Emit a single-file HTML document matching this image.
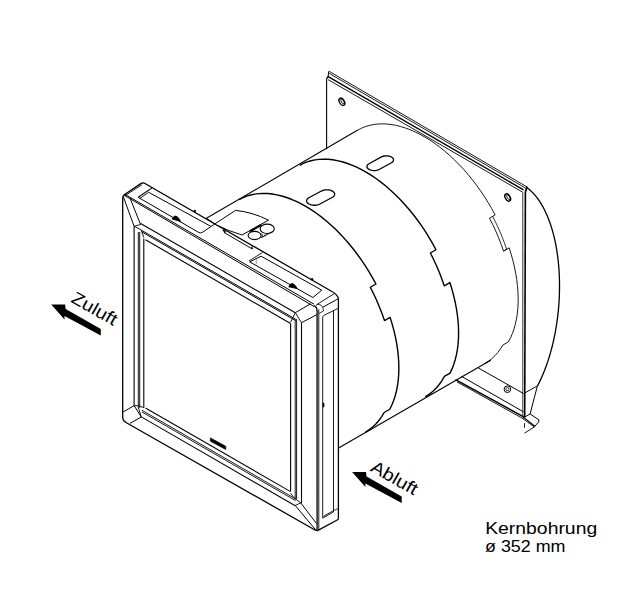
<!DOCTYPE html>
<html><head><meta charset="utf-8"><style>
html,body{margin:0;padding:0;background:#fff;}
svg{display:block;}
text{font-family:"Liberation Sans",sans-serif;fill:#000;}
</style></head><body>
<svg width="617" height="590" viewBox="0 0 617 590">
<rect width="617" height="590" fill="#fff"/>
<polyline points="239.29,199.59 242.88,197.73 246.65,196.2 250.57,195 254.66,194.13 258.88,193.6 263.23,193.4 267.71,193.54 272.28,194.02 276.96,194.84 281.71,195.99 286.52,197.47 291.39,199.27 296.3,201.4 301.23,203.85 306.18,206.6 311.12,209.65 316.05,213 320.95,216.63 325.8,220.53 330.6,224.69 335.32,229.11 339.97,233.76 344.51,238.64 348.95,243.73 353.26,249.01 357.44,254.48 361.48,260.11 365.35,265.9 369.06,271.82 372.59,277.86 375.94,284 370.31,287.25 373.62,293.82 376.7,300.46 379.55,307.16 382.14,313.89 384.48,320.63 390.11,317.38 392.15,324.01 393.94,330.62 395.45,337.18 396.69,343.66 397.66,350.06 398.34,356.35 398.75,362.51 398.87,368.52 398.7,374.37 398.25,380.03 397.52,385.5 396.52,390.74 395.23,395.76 393.67,400.53 391.85,405.03 389.76,409.26 384.13,412.51 381.71,416.56 379.03,420.3 376.1,423.7 372.92,426.76 369.5,429.47 365.86,431.82 371.49,428.57 371.49,428.57 371.49,428.57 371.49,428.57 371.49,428.57" fill="none" stroke="#000" stroke-width="1.4" stroke-linejoin="round"/>
<polyline points="299.77,165.32 303.35,163.47 307.11,161.94 311.03,160.74 315.1,159.88 319.32,159.35 323.66,159.16 328.12,159.31 332.69,159.79 337.35,160.61 342.09,161.76 346.89,163.25 351.75,165.06 356.65,167.19 361.57,169.64 366.5,172.39 371.43,175.45 376.35,178.79 381.23,182.42 386.07,186.32 390.85,190.49 395.56,194.9 400.19,199.55 404.72,204.43 409.14,209.51 413.43,214.79 417.59,220.26 421.61,225.88 425.47,231.66 429.15,237.58 432.66,243.6 435.99,249.74 430.36,252.99 433.6,259.45 436.62,265.98 439.41,272.56 441.95,279.18 444.25,285.8 449.88,282.55 451.89,289.06 453.64,295.55 455.14,301.99 456.37,308.36 457.34,314.64 458.03,320.82 458.45,326.88 458.59,332.8 458.47,338.56 458.06,344.14 457.39,349.53 456.44,354.72 455.23,359.68 453.75,364.41 452.01,368.88 450.01,373.09 444.39,376.34 441.95,380.59 439.23,384.49 436.23,388.04 432.98,391.23 429.47,394.04 425.72,396.47 431.35,393.22 431.35,393.22 431.35,393.22 431.35,393.22 431.35,393.22" fill="none" stroke="#000" stroke-width="1.4" stroke-linejoin="round"/>
<polyline points="357.8,130.09 361.41,128.22 365.19,126.68 369.14,125.47 373.24,124.6 377.49,124.06 381.86,123.87 386.36,124.01 390.96,124.49 395.65,125.31 400.43,126.47 405.27,127.95 410.16,129.77 415.09,131.91 420.05,134.37 425.02,137.13 429.99,140.2 434.94,143.56 439.87,147.21 444.74,151.13 449.56,155.32 454.31,159.75 458.98,164.43 463.55,169.33 468.01,174.44 472.34,179.75 476.54,185.25 480.6,190.91 484.49,196.73 488.22,202.68 491.77,208.75 495.13,214.92 489.5,218.17 492.77,224.65 495.82,231.2 498.63,237.8 501.21,244.43 503.53,251.08 509.16,247.83 511.17,254.24 512.93,260.64 514.45,266.98 515.71,273.27 516.71,279.48 517.46,285.59 517.94,291.59 518.16,297.45 518.12,303.18 517.81,308.73 517.24,314.11 516.41,319.3 515.32,324.28 513.98,329.03 512.38,333.55 510.54,337.83 508.45,341.84 502.82,345.09 500.43,348.93 497.8,352.47 494.94,355.7 491.85,358.62 488.54,361.2 485.03,363.46 490.66,360.21 490.66,360.21 490.66,360.21 490.66,360.21 490.66,360.21" fill="none" stroke="#000" stroke-width="0.9" stroke-linejoin="round"/>
<polyline points="492.62,216.37 495.89,222.85 498.94,229.4 501.75,236 504.32,242.63 506.65,249.28" fill="none" stroke="#000" stroke-width="0.8" stroke-linejoin="round"/>
<line x1="506.65" y1="249.28" x2="503.53" y2="251.08" stroke="#000" stroke-width="0.9"/>
<line x1="206" y1="218.59" x2="357.8" y2="130.09" stroke="#000" stroke-width="1.1"/>
<line x1="338.2" y1="448.15" x2="490.66" y2="360.21" stroke="#000" stroke-width="1.1"/>
<polygon points="321.4,191.05 322.42,190.56 323.57,190.18 324.83,189.92 326.15,189.78 327.5,189.78 328.82,189.92 330.1,190.18 331.27,190.56 332.32,191.05 333.2,191.64 333.89,192.3 334.37,193.02 334.63,193.77 334.65,194.53 334.44,195.28 334,196 333.35,196.66 332.5,197.25 319.9,204 318.88,204.49 317.73,204.87 316.47,205.13 315.15,205.27 313.8,205.27 312.48,205.13 311.2,204.87 310.03,204.49 308.98,204 308.1,203.41 307.41,202.75 306.93,202.03 306.67,201.28 306.65,200.52 306.86,199.77 307.3,199.05 307.95,198.39 308.8,197.8" fill="none" stroke="#000" stroke-width="1.3" stroke-linejoin="round"/>
<polygon points="381,157.1 381.97,156.63 383.06,156.26 384.26,156 385.51,155.86 386.79,155.84 388.05,155.95 389.26,156.17 390.37,156.51 391.36,156.95 392.19,157.48 392.85,158.09 393.3,158.75 393.54,159.44 393.56,160.15 393.35,160.85 392.93,161.52 392.31,162.15 391.5,162.7 379.5,169.3 378.53,169.77 377.44,170.14 376.24,170.4 374.99,170.54 373.71,170.56 372.45,170.45 371.24,170.23 370.13,169.89 369.14,169.45 368.31,168.92 367.65,168.31 367.2,167.65 366.96,166.96 366.94,166.25 367.15,165.55 367.57,164.88 368.19,164.25 369,163.7" fill="none" stroke="#000" stroke-width="1.3" stroke-linejoin="round"/>
<line x1="328.7" y1="71.1" x2="526.8" y2="186.79" stroke="#000" stroke-width="0.9"/>
<line x1="329.2" y1="73.39" x2="525.5" y2="188.03" stroke="#000" stroke-width="0.9"/>
<line x1="327.8" y1="76.32" x2="523.5" y2="189.83" stroke="#000" stroke-width="1.4"/>
<line x1="328.1" y1="79.61" x2="522.8" y2="192.27" stroke="#000" stroke-width="0.9"/>
<line x1="326.6" y1="78.6" x2="326.6" y2="149.2" stroke="#000" stroke-width="1.1"/>
<line x1="328.7" y1="71.6" x2="328.1" y2="76.6" stroke="#000" stroke-width="1.0"/>
<line x1="326.6" y1="78.6" x2="328.1" y2="76.6" stroke="#000" stroke-width="1.4"/>
<line x1="527" y1="186.6" x2="525.5" y2="191.8" stroke="#000" stroke-width="1.8"/>
<line x1="525.4" y1="191.5" x2="524.7" y2="417.6" stroke="#000" stroke-width="1.6"/>
<line x1="522.8" y1="192.4" x2="522.8" y2="416" stroke="#000" stroke-width="0.8"/>
<ellipse cx="341.9" cy="101.8" rx="2.4" ry="4.0" fill="none" stroke="#000" stroke-width="1.4" transform="rotate(-30 341.9 101.8)"/>
<ellipse cx="342.7" cy="101.8" rx="1.2" ry="2.8" fill="none" stroke="#000" stroke-width="0.8" transform="rotate(-30 341.9 101.8)"/>
<ellipse cx="507.7" cy="197.5" rx="2.4" ry="4.0" fill="none" stroke="#000" stroke-width="1.4" transform="rotate(-30 507.7 197.5)"/>
<ellipse cx="508.5" cy="197.5" rx="1.2" ry="2.8" fill="none" stroke="#000" stroke-width="0.8" transform="rotate(-30 507.7 197.5)"/>
<polyline points="527.03,187.75 528.76,189.07 530.46,190.52 532.13,192.1 533.77,193.81 535.37,195.63 536.93,197.59 538.46,199.66 539.94,201.84 541.37,204.14 542.77,206.56 544.11,209.08 545.41,211.71 546.66,214.45 547.86,217.28 549.01,220.21 550.1,223.23 551.14,226.35 552.12,229.55 553.05,232.83 553.91,236.2 554.72,239.63 555.47,243.14 556.15,246.72 556.78,250.36 557.34,254.06 557.84,257.81 558.28,261.62 558.65,265.47 558.95,269.36 559.2,273.29 559.37,277.25 559.48,281.24 559.53,285.26 559.51,289.29 559.42,293.34 559.27,297.4 559.06,301.46 558.77,305.52 558.43,309.58 558.02,313.63 557.54,317.67 557,321.68 556.4,325.68 555.74,329.65 555.02,333.58 554.23,337.48 553.39,341.34 552.49,345.15 551.53,348.92 550.51,352.63 549.44,356.28 548.31,359.87 547.14,363.39 545.91,366.84 544.63,370.22 543.3,373.51 541.92,376.73 540.5,379.86 539.04,382.9 537.53,385.85" fill="none" stroke="#000" stroke-width="1.3" stroke-linejoin="round"/>
<line x1="537.4" y1="385.9" x2="530.1" y2="413.9" stroke="#000" stroke-width="1.0"/>
<line x1="524.4" y1="393.2" x2="537.4" y2="385.9" stroke="#000" stroke-width="1.0"/>
<line x1="478.2" y1="367.9" x2="523.6" y2="393.6" stroke="#000" stroke-width="1.0"/>
<line x1="461.2" y1="376.2" x2="523.6" y2="411.9" stroke="#000" stroke-width="1.0"/>
<line x1="455.5" y1="379.6" x2="523.6" y2="416.9" stroke="#000" stroke-width="1.5"/>
<line x1="457" y1="381.9" x2="524" y2="419.2" stroke="#000" stroke-width="0.9"/>
<line x1="524.7" y1="417" x2="530.1" y2="413.9" stroke="#000" stroke-width="1.0"/>
<polyline points="530.1,413.9 539,420 538.5,422.3 534.7,426.2" fill="none" stroke="#000" stroke-width="1.0" stroke-linejoin="round"/>
<line x1="522.4" y1="416.4" x2="534.7" y2="426.2" stroke="#000" stroke-width="1.2"/>
<line x1="523.5" y1="419.2" x2="534.2" y2="426.8" stroke="#000" stroke-width="0.9"/>
<line x1="524.5" y1="423.1" x2="524.5" y2="427.7" stroke="#000" stroke-width="0.9"/>
<line x1="524.5" y1="433.1" x2="535.5" y2="426.2" stroke="#000" stroke-width="0.9"/>
<circle cx="507.4" cy="389.2" r="3.3" fill="none" stroke="#000" stroke-width="1"/>
<circle cx="507.4" cy="389.2" r="1.6" fill="none" stroke="#000" stroke-width="0.8"/>
<polygon points="122.7,196 142.9,182.6 335.8,293.7 338.4,298 338.5,519.2 317.1,530.9 122.7,419.4" fill="#fff" stroke="none"/>
<path d="M122.7,198 L122.7,417.9 Q123,421 125.5,422.2 L315,530 Q317.1,531.2 317.1,528.5 L317.1,311 Q317.1,307 314,305.6" fill="none" stroke="#000" stroke-width="1.3" stroke-linejoin="round"/>
<line x1="318.8" y1="309.5" x2="318.8" y2="530" stroke="#000" stroke-width="0.9"/>
<path d="M122.7,198 Q122.7,195.5 125,194.2 L141.2,183.4 Q142.9,182.4 145,183.5 L331,291 Q336.5,293.6 338.4,298" fill="none" stroke="#000" stroke-width="1.3" stroke-linejoin="round"/>
<line x1="124.6" y1="195.9" x2="141.8" y2="184.8" stroke="#000" stroke-width="0.9"/>
<line x1="124.4" y1="194.03" x2="314" y2="304.18" stroke="#000" stroke-width="1.0"/>
<line x1="124.4" y1="195.4" x2="314" y2="306.5" stroke="#000" stroke-width="1.0"/>
<line x1="317.1" y1="304.4" x2="334.2" y2="293.7" stroke="#000" stroke-width="0.9"/>
<line x1="322.8" y1="307.2" x2="338.4" y2="298.7" stroke="#000" stroke-width="1.0"/>
<path d="M316,305.2 Q320,303 322.8,307.2 L323.5,311 L318.9,313.5" fill="none" stroke="#000" stroke-width="0.8" stroke-linejoin="round"/>
<line x1="338.4" y1="298" x2="338.4" y2="519.2" stroke="#000" stroke-width="1.3"/>
<line x1="338.5" y1="519.2" x2="317.1" y2="530.9" stroke="#000" stroke-width="1.3"/>
<path d="M322.7,518.1 L322.7,317.5 Q322.7,315.8 324.5,315 L338.4,308.3" fill="none" stroke="#000" stroke-width="0.9" stroke-linejoin="round"/>
<line x1="333.5" y1="310.8" x2="333.5" y2="512" stroke="#000" stroke-width="0.9"/>
<line x1="322.7" y1="518.1" x2="333.5" y2="512" stroke="#000" stroke-width="0.9"/>
<line x1="323.5" y1="516.3" x2="333.5" y2="510.6" stroke="#000" stroke-width="0.9"/>
<line x1="333.5" y1="510.5" x2="338.4" y2="508.5" stroke="#000" stroke-width="0.8"/>
<line x1="134.1" y1="226.3" x2="134.1" y2="405.6" stroke="#000" stroke-width="1.1"/>
<line x1="140.6" y1="223.47" x2="295.3" y2="312.73" stroke="#000" stroke-width="1.1"/>
<line x1="301.5" y1="322.7" x2="301.5" y2="502.9" stroke="#000" stroke-width="1.1"/>
<line x1="141.3" y1="416.89" x2="295.2" y2="505.69" stroke="#000" stroke-width="1.1"/>
<polyline points="123.3,196.6 134.1,226.3" fill="none" stroke="#000" stroke-width="1.0" stroke-linejoin="round"/>
<polyline points="129.9,197.8 140.6,224.5" fill="none" stroke="#000" stroke-width="1.0" stroke-linejoin="round"/>
<polyline points="134.1,226.3 140.6,224.5" fill="none" stroke="#000" stroke-width="0.9" stroke-linejoin="round"/>
<polyline points="310.5,303.8 295.3,312.7" fill="none" stroke="#000" stroke-width="1.0" stroke-linejoin="round"/>
<polyline points="301.5,322.7 317.1,314.5" fill="none" stroke="#000" stroke-width="1.0" stroke-linejoin="round"/>
<polyline points="123.1,412 134.1,405.6 141.3,417 129.9,423.4" fill="none" stroke="#000" stroke-width="1.0" stroke-linejoin="round"/>
<polyline points="300.8,502.9 316.6,523.7" fill="none" stroke="#000" stroke-width="1.0" stroke-linejoin="round"/>
<polyline points="295.2,505.4 300.8,502.9" fill="none" stroke="#000" stroke-width="0.9" stroke-linejoin="round"/>
<polyline points="295.2,505.4 316.1,530.4" fill="none" stroke="#000" stroke-width="1.0" stroke-linejoin="round"/>
<line x1="138.3" y1="232" x2="138.3" y2="408" stroke="#000" stroke-width="0.9"/>
<line x1="139.7" y1="232" x2="139.7" y2="408" stroke="#000" stroke-width="0.9"/>
<line x1="141.5" y1="230.29" x2="295.5" y2="319.14" stroke="#000" stroke-width="1.0"/>
<line x1="141.5" y1="231.69" x2="295.5" y2="320.54" stroke="#000" stroke-width="1.0"/>
<line x1="295.2" y1="319" x2="295.2" y2="499.3" stroke="#000" stroke-width="0.9"/>
<line x1="296.6" y1="319" x2="296.6" y2="499.3" stroke="#000" stroke-width="0.9"/>
<line x1="142" y1="410.3" x2="295.5" y2="498.87" stroke="#000" stroke-width="0.9"/>
<line x1="142" y1="412" x2="295.5" y2="500.57" stroke="#000" stroke-width="0.9"/>
<line x1="143.8" y1="238.5" x2="143.8" y2="407.7" stroke="#000" stroke-width="1.1"/>
<line x1="145.5" y1="239.79" x2="290.6" y2="323.52" stroke="#000" stroke-width="1.1"/>
<line x1="290.6" y1="323.5" x2="290.6" y2="491" stroke="#000" stroke-width="1.1"/>
<line x1="145.5" y1="407.92" x2="290.6" y2="491.64" stroke="#000" stroke-width="1.1"/>
<path d="M134.1,226.3 L141.2,229.9 L143.8,237.5" fill="none" stroke="#000" stroke-width="0.9" stroke-linejoin="round"/>
<path d="M290.6,322.2 L295.3,312.7 L301.5,322.7" fill="none" stroke="#000" stroke-width="0.9" stroke-linejoin="round"/>
<path d="M134.1,405.6 Q139,405 143.8,407.7 M138.5,408 L141.3,417" fill="none" stroke="#000" stroke-width="0.9" stroke-linejoin="round"/>
<path d="M290.6,493.2 Q293,497 296.2,499.5 L300.8,502.9" fill="none" stroke="#000" stroke-width="0.9" stroke-linejoin="round"/>
<polygon points="210.3,437.8 225.8,446.3 225.8,449.6 210.3,441.2" fill="#000" stroke="#000" stroke-width="0.6" stroke-linejoin="round"/>
<ellipse cx="323.5" cy="405" rx="1" ry="2.5" fill="#000"/>
<line x1="138.2" y1="197.3" x2="152.1" y2="187.9" stroke="#000" stroke-width="1.1"/>
<line x1="139.8" y1="198.4" x2="148.3" y2="192.6" stroke="#000" stroke-width="0.9"/>
<line x1="148.3" y1="192.1" x2="210.9" y2="226.4" stroke="#000" stroke-width="1.0"/>
<path d="M138.2,197.3 L198.5,232.3 Q200.6,233.6 202.5,232.3 L214.7,224" fill="none" stroke="#000" stroke-width="1.0" stroke-linejoin="round"/>
<polyline points="249.7,261.9 261.1,256.2 321.8,290.2 312.9,297.5 249.7,261.9" fill="none" stroke="#000" stroke-width="1.0" stroke-linejoin="round"/>
<line x1="248.9" y1="261.1" x2="262.3" y2="252.6" stroke="#000" stroke-width="0.9"/>
<line x1="256.2" y1="258.6" x2="256.2" y2="264.3" stroke="#777" stroke-width="0.8"/>
<path d="M288.8,286.8 Q292,279.5 297.2,288.5 Z" fill="#000" stroke="#000" stroke-width="1.0" stroke-linejoin="round"/>
<circle cx="312.1" cy="279.3" r="1.2" fill="#000"/>
<path d="M172.2,219 Q175.5,212 180.6,221.4 Z" fill="#000" stroke="#000" stroke-width="1.0" stroke-linejoin="round"/>
<circle cx="194.8" cy="211" r="1.2" fill="#000"/>
<path d="M235.5,210.4 Q252,212 268.5,220.1 L242,235 Q228,231 214.7,224 Z" fill="#fff" stroke="#000" stroke-width="1.0" stroke-linejoin="round"/>
<line x1="207" y1="218.6" x2="214.7" y2="224" stroke="#000" stroke-width="1.0"/>
<ellipse cx="267.2" cy="228.8" rx="7.1" ry="4.7" fill="#fff" stroke="#000" stroke-width="1.1"/>
<ellipse cx="254.6" cy="235.5" rx="6.5" ry="4.1" fill="#fff" stroke="#000" stroke-width="1.1"/>
<line x1="249.7" y1="231.4" x2="261.4" y2="224.9" stroke="#000" stroke-width="2.2"/>
<line x1="261.2" y1="237.6" x2="272.6" y2="231.6" stroke="#000" stroke-width="1.0"/>
<line x1="262" y1="233.5" x2="262.4" y2="237.3" stroke="#000" stroke-width="0.9"/>
<line x1="264.5" y1="234.6" x2="265.5" y2="236.4" stroke="#000" stroke-width="0.8"/>
<line x1="223.8" y1="232.3" x2="252.2" y2="248.9" stroke="#000" stroke-width="1.0"/>
<line x1="223" y1="229.8" x2="225.5" y2="232.5" stroke="#000" stroke-width="1.6"/>
<line x1="251.8" y1="246.5" x2="252.4" y2="249" stroke="#000" stroke-width="1.2"/>
<polygon points="51.2,304.4 65.1,304.4 65.7,309 100.8,329.1 100.8,335.6 64.5,316.1 64.5,319.4" fill="#000"/>
<polygon points="352.1,471.9 366,471.9 366.6,476.5 401.7,496.6 401.7,503.1 365.4,483.6 365.4,486.9" fill="#000"/>
<text font-size="17.5" transform="translate(70,301.5) rotate(29.5) scale(1.14,1)">Zuluft</text>
<text font-size="17.5" transform="translate(369.5,470.5) rotate(29.5) scale(1.14,1)">Abluft</text>
<text x="485.2" y="533.6" font-size="17" textLength="112" lengthAdjust="spacingAndGlyphs">Kernbohrung</text>
<text x="485" y="551.8" font-size="17" textLength="80.5" lengthAdjust="spacingAndGlyphs">ø 352 mm</text>
</svg>
</body></html>
